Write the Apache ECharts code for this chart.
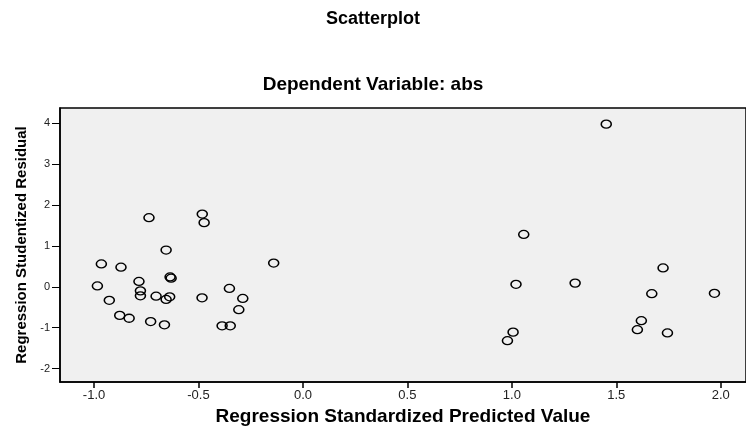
<!DOCTYPE html>
<html><head><meta charset="utf-8">
<script src="https://cdn.jsdelivr.net/npm/echarts@6/dist/echarts.min.js"></script>
<style>html,body{margin:0;padding:0;background:#fff}#c{width:746px;height:426px}</style>
</head><body><div id="c"></div>
<script>
const predicted = [-0.737,-0.482,-0.473,-0.655,-0.965,-0.871,-0.140,-0.636,-0.631,-0.984,-0.785,-0.778,-0.778,-0.927,-0.703,-0.638,-0.655,-0.352,-0.483,-0.288,-0.307,-0.877,-0.832,-0.729,-0.663,-0.387,-0.348,1.057,1.020,1.006,0.979,1.452,1.724,1.303,1.670,1.970,1.620,1.601,1.745];
const residual  = [1.69,1.78,1.57,0.90,0.56,0.48,0.58,0.24,0.21,0.02,0.13,-0.10,-0.22,-0.33,-0.23,-0.245,-0.31,-0.04,-0.27,-0.285,-0.56,-0.70,-0.77,-0.85,-0.93,-0.955,-0.955,1.28,0.06,-1.11,-1.32,3.98,0.46,0.09,-0.17,-0.16,-0.83,-1.05,-1.13];
const xTicks = [-1.0,-0.5,0.0,0.5,1.0,1.5,2.0];
const yTicks = [-2,-1,0,1,2,3,4];
const titleText = 'Scatterplot';
const subtitleText = 'Dependent Variable: abs';
const xName = 'Regression Standardized Predicted Value';
const yName = 'Regression Studentized Residual';

const points = predicted.map((x,i)=>[x,residual[i]]);
const chart = echarts.init(document.getElementById('c'));
const font = 'Liberation Sans, Arial, sans-serif';
chart.setOption({
  animation:false,
  backgroundColor:'#fff',
  title:[
    {text:titleText,left:'center',top:5,textStyle:{fontFamily:font,fontSize:18,fontWeight:'bold',color:'#000'}},
    {text:subtitleText,left:'center',top:70,textStyle:{fontFamily:font,fontSize:19,fontWeight:'bold',color:'#000'}}
  ],
  grid:{left:60,right:0,top:108,bottom:44,outerBoundsMode:'none',containLabel:false,show:true,backgroundColor:'#f0f0f0',borderColor:'#000',borderWidth:1.5},
  xAxis:{type:'value',min:-1.163,max:2.121,
    name:xName,nameLocation:'middle',nameGap:21,
    nameTextStyle:{fontFamily:font,fontSize:19,fontWeight:'bold',color:'#000'},
    axisLine:{show:true,onZero:false,lineStyle:{color:'#000',width:1.5}},
    axisTick:{show:true,length:6,customValues:xTicks,lineStyle:{color:'#000',width:1.5}},
    axisLabel:{customValues:xTicks,formatter:v=>v.toFixed(1),fontFamily:font,fontSize:13,color:'#222',margin:7},
    splitLine:{show:false}},
  yAxis:{type:'value',min:-2.33,max:4.375,
    name:yName,nameLocation:'middle',nameGap:28,nameRotate:90,
    nameTextStyle:{fontFamily:font,fontSize:15,fontWeight:'bold',color:'#000'},
    axisLine:{show:true,onZero:false,lineStyle:{color:'#000',width:1.5}},
    axisTick:{show:true,length:8,customValues:yTicks,lineStyle:{color:'#000',width:1}},
    axisLabel:{customValues:yTicks,formatter:v=>String(v),fontFamily:font,fontSize:11,color:'#222',margin:10},
    splitLine:{show:false}},
  series:[{type:'scatter',data:points,symbol:'circle',symbolSize:[10,8],
    itemStyle:{color:'rgba(0,0,0,0)',borderColor:'#000',borderWidth:1.4,opacity:1}}]
});
</script></body></html>
